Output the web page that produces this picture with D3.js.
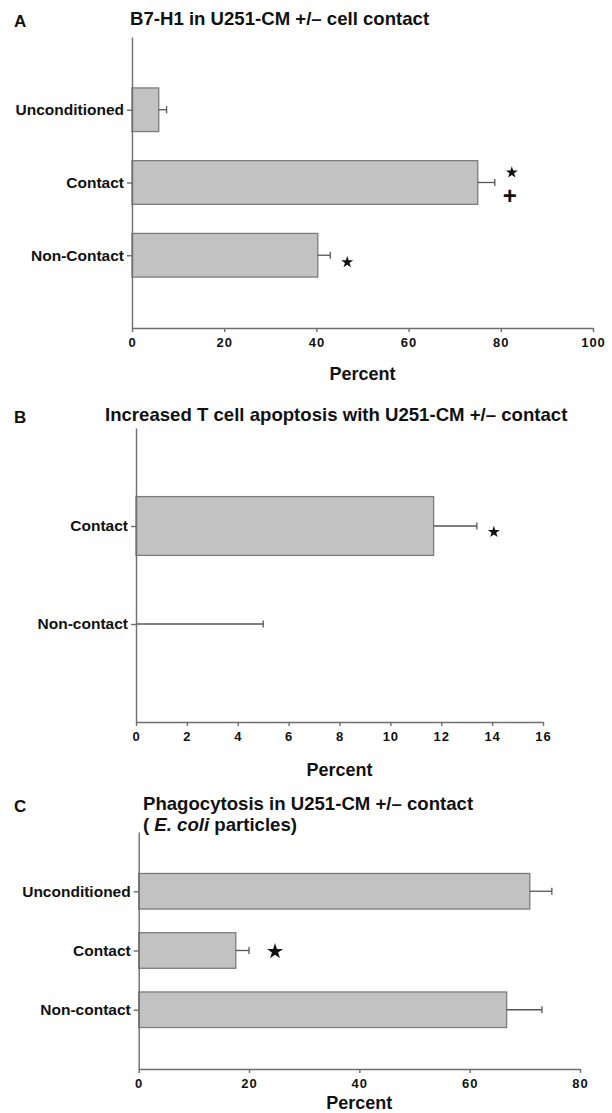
<!DOCTYPE html>
<html>
<head>
<meta charset="utf-8">
<script src="https://cdn.jsdelivr.net/npm/d3@7"></script>
<style>
  body { margin: 0; background: #fff; }
  svg text { font-family: "Liberation Sans", Arial, Helvetica, sans-serif; font-weight: bold; fill: #111; }
</style>
</head>
<body>
<svg width="612" height="1113"></svg>
<script>
// panel A: B7-H1
const catsA = ["Unconditioned", "Contact", "Non-Contact"];
const valsA = [5.8, 75.0, 40.3];
const errsA = [1.7, 3.7, 2.7];
const ticksA = [0, 20, 40, 60, 80, 100];
const marksA = [[], ["*", "+"], ["*"]];

// panel B: T cell apoptosis
const catsB = ["Contact", "Non-contact"];
const valsB = [11.7, 0];
const errsB = [1.7, 5.0];
const ticksB = [0, 2, 4, 6, 8, 10, 12, 14, 16];
const marksB = [["*"], []];

// panel C: phagocytosis
const catsC = ["Unconditioned", "Contact", "Non-contact"];
const valsC = [70.9, 17.6, 66.7];
const errsC = [4.0, 2.4, 6.4];
const ticksC = [0, 20, 40, 60, 80];
const marksC = [[], ["*"], []];

const svg = d3.select("svg");

function drawPanel(p) {
  const g = svg.append("g");
  const x = d3.scaleLinear().domain([0, d3.max(p.ticks)]).range(p.xr);
  const y = d3.scalePoint().domain(p.cats).range(p.yr).padding(1);
  const bh = y.step() * 0.6;

  // panel letter + title
  g.append("text").attr("x", 14).attr("y", p.titleY + 2).style("font-size", "17px").text(p.letter);
  p.title.forEach((t, i) => {
    const tx = g.append("text").attr("x", p.titleX).attr("y", p.titleY + i * 21)
      .style("font-size", "18.6px");
    t.forEach(seg => tx.append("tspan").style("font-style", seg.i ? "italic" : null).text(seg.s));
  });

  // bars
  const rows = p.cats.map((c, i) => ({ cat: c, v: p.vals[i], e: p.errs[i], m: p.marks[i] }));
  g.selectAll("rect.bar").data(rows.filter(d => d.v > 0)).enter().append("rect")
    .attr("class", "bar")
    .attr("x", x(0))
    .attr("y", d => y(d.cat) - bh / 2)
    .attr("width", d => x(d.v) - x(0))
    .attr("height", bh)
    .attr("fill", "#c2c2c2")
    .attr("stroke", "#7c7c7c")
    .attr("stroke-width", 1.3);

  // error bars
  const eb = g.selectAll("g.err").data(rows).enter().append("g").attr("class", "err");
  eb.append("line")
    .attr("x1", d => x(d.v)).attr("x2", d => x(d.v + d.e))
    .attr("y1", d => y(d.cat)).attr("y2", d => y(d.cat))
    .attr("stroke", "#555").attr("stroke-width", 1.3);
  eb.append("line")
    .attr("x1", d => x(d.v + d.e)).attr("x2", d => x(d.v + d.e))
    .attr("y1", d => y(d.cat) - 3.5).attr("y2", d => y(d.cat) + 3.5)
    .attr("stroke", "#555").attr("stroke-width", 1.3);

  // significance marks
  rows.forEach(d => {
    const ex = x(d.v + d.e);
    d.m.forEach((m, k) => {
      const dy = d.m.length > 1 ? (k === 0 ? -10 : 13) : p.starDy;
      if (m === "*") {
        g.append("path")
          .attr("d", d3.symbol().type(d3.symbolStar).size(p.starSize)())
          .attr("transform", `translate(${ex + p.starDx},${y(d.cat) + dy})`)
          .attr("fill", "#111");
      } else {
        g.append("text").attr("x", ex + p.starDx - 2).attr("y", y(d.cat) + dy + 8)
          .attr("text-anchor", "middle").style("font-size", "24px").text(m);
      }
    });
  });

  // axes
  const xAxis = g.append("g").attr("transform", `translate(0,${p.yr[1]})`)
    .call(d3.axisBottom(x).tickValues(p.ticks).tickSize(4).tickSizeOuter(0).tickPadding(6));
  xAxis.selectAll("text").style("font-size", "13px").style("letter-spacing", "1px");
  const yAxis = g.append("g").attr("transform", `translate(${p.xr[0]},0)`)
    .call(d3.axisLeft(y).tickSize(5).tickSizeOuter(0).tickPadding(3));
  yAxis.selectAll("text").style("font-size", "15.5px");
  g.selectAll(".domain, .tick line").attr("stroke", "#6e6e6e").attr("stroke-width", 1.4);

  g.append("text").attr("x", (p.xr[0] + p.xr[1]) / 2).attr("y", p.labelY)
    .attr("text-anchor", "middle").style("font-size", "18px").text("Percent");
}

drawPanel({
  letter: "A", title: [[{ s: "B7-H1 in U251-CM +/\u2013 cell contact" }]],
  titleX: 130, titleY: 25,
  cats: catsA, vals: valsA, errs: errsA, ticks: ticksA, marks: marksA,
  xr: [132, 593], yr: [37, 328], labelY: 380,
  starDx: 17, starDy: 7, starSize: 45
});

drawPanel({
  letter: "B", title: [[{ s: "Increased T cell apoptosis with U251-CM +/\u2013 contact" }]],
  titleX: 105, titleY: 421,
  cats: catsB, vals: valsB, errs: errsB, ticks: ticksB, marks: marksB,
  xr: [136, 543], yr: [428, 722], labelY: 776,
  starDx: 17, starDy: 6, starSize: 45
});

drawPanel({
  letter: "C",
  title: [[{ s: "Phagocytosis in U251-CM +/\u2013 contact" }],
          [{ s: "( " }, { s: "E. coli", i: true }, { s: " particles)" }]],
  titleX: 143, titleY: 810,
  cats: catsC, vals: valsC, errs: errsC, ticks: ticksC, marks: marksC,
  xr: [138.7, 580], yr: [832, 1069], labelY: 1109,
  starDx: 26, starDy: 1, starSize: 80
});
</script>
</body>
</html>
